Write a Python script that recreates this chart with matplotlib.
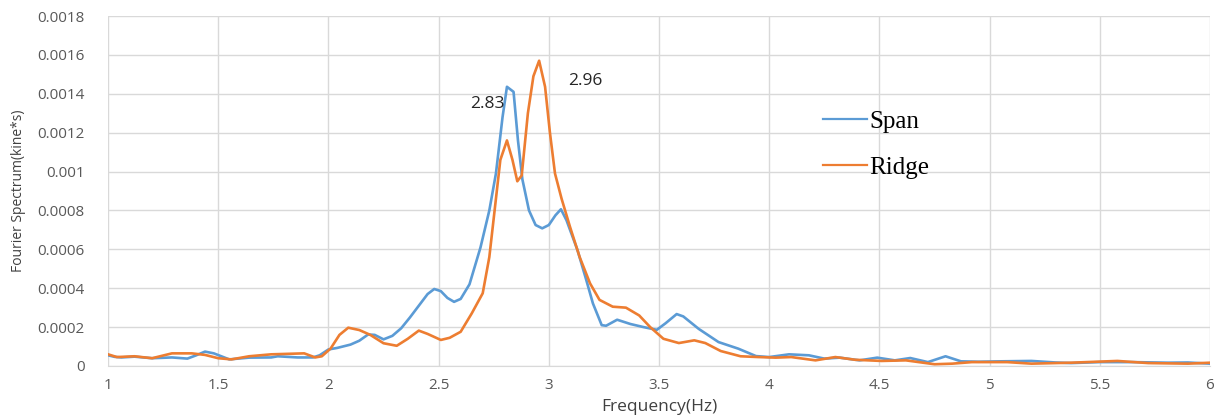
import matplotlib
matplotlib.use("Agg")
import matplotlib.pyplot as plt

# Fourier spectrum
span_freq = [1.00, 1.03, 1.06, 1.12, 1.20, 1.29, 1.36, 1.40, 1.44, 1.48, 1.55, 1.64,
             1.74, 1.77, 1.86, 1.93, 1.96, 2.00, 2.04, 2.10, 2.14, 2.18, 2.21, 2.25,
             2.29, 2.33, 2.37, 2.42, 2.45, 2.48, 2.51, 2.54, 2.57, 2.60, 2.64, 2.69,
             2.73, 2.76, 2.79, 2.81, 2.84, 2.86, 2.88, 2.91, 2.94, 2.97, 3.00, 3.03,
             3.055, 3.08, 3.13, 3.17, 3.20, 3.24, 3.26, 3.31, 3.37, 3.43, 3.49, 3.53,
             3.58, 3.61, 3.68, 3.77, 3.86, 3.94, 4.00, 4.09, 4.18, 4.25, 4.32, 4.41,
             4.49, 4.57, 4.64, 4.72, 4.80, 4.87, 4.95, 5.05, 5.19, 5.30, 5.37, 5.50,
             5.65, 5.81, 5.90, 6.00]
span_vals = [0.000055, 0.000047, 0.000044, 0.000048, 0.000040, 0.000044, 0.000038,
             0.000055, 0.000074, 0.000065, 0.000034, 0.000043, 0.000044, 0.000050,
             0.000044, 0.000044, 0.000055, 0.000085, 0.000093, 0.000110, 0.000130,
             0.000162, 0.000160, 0.000137, 0.000155, 0.000194, 0.000250, 0.000325,
             0.000370, 0.000396, 0.000385, 0.000350, 0.000330, 0.000345, 0.000420,
             0.000610, 0.000800, 0.000990, 0.001280, 0.001436, 0.001410, 0.001160,
             0.000960, 0.000800, 0.000725, 0.000708, 0.000725, 0.000775, 0.000806,
             0.000750, 0.000596, 0.000442, 0.000322, 0.000210, 0.000207, 0.000238,
             0.000216, 0.000200, 0.000186, 0.000220, 0.000267, 0.000255, 0.000191,
             0.000123, 0.000089, 0.000051, 0.000046, 0.000060, 0.000055, 0.000038,
             0.000043, 0.000029, 0.000043, 0.000029, 0.000041, 0.000020, 0.000050,
             0.000024, 0.000022, 0.000024, 0.000026, 0.000018, 0.000015, 0.000020,
             0.000020, 0.000017, 0.000018, 0.000012]

ridge_freq = [1.00, 1.04, 1.12, 1.20, 1.29, 1.38, 1.44, 1.50, 1.56, 1.64, 1.74, 1.89,
              1.94, 1.97, 2.01, 2.05, 2.09, 2.14, 2.19, 2.25, 2.31, 2.36, 2.41, 2.45,
              2.51, 2.55, 2.60, 2.65, 2.70, 2.73, 2.756, 2.78, 2.81, 2.835, 2.857,
              2.877, 2.905, 2.93, 2.956, 2.983, 3.005, 3.028, 3.058, 3.096, 3.14,
              3.187, 3.23, 3.29, 3.35, 3.41, 3.46, 3.52, 3.59, 3.66, 3.71, 3.78, 3.87,
              3.95, 4.03, 4.10, 4.21, 4.30, 4.39, 4.51, 4.62, 4.75, 4.83, 4.92, 5.08,
              5.19, 5.37, 5.58, 5.72, 5.90, 6.00]
ridge_vals = [0.000060, 0.000046, 0.000050, 0.000040, 0.000065, 0.000065, 0.000057,
              0.000040, 0.000034, 0.000050, 0.000060, 0.000065, 0.000044, 0.000050,
              0.000090, 0.000160, 0.000197, 0.000185, 0.000160, 0.000117, 0.000104,
              0.000140, 0.000182, 0.000165, 0.000134, 0.000145, 0.000176, 0.000270,
              0.000374, 0.000560, 0.000820, 0.001060, 0.001160, 0.001060, 0.000950,
              0.000980, 0.001300, 0.001490, 0.001570, 0.001436, 0.001200, 0.000990,
              0.000860, 0.000716, 0.000560, 0.000425, 0.000340, 0.000305, 0.000300,
              0.000260, 0.000200, 0.000140, 0.000118, 0.000132, 0.000118, 0.000077,
              0.000050, 0.000046, 0.000043, 0.000046, 0.000029, 0.000046, 0.000032,
              0.000026, 0.000029, 0.000009, 0.000012, 0.000020, 0.000020, 0.000012,
              0.000017, 0.000026, 0.000015, 0.000012, 0.000017]

x_ticks = [1, 1.5, 2, 2.5, 3, 3.5, 4, 4.5, 5, 5.5, 6]
x_tick_labels = ["1", "1.5", "2", "2.5", "3", "3.5", "4", "4.5", "5", "5.5", "6"]
y_ticks = [0, 0.0002, 0.0004, 0.0006, 0.0008, 0.001, 0.0012, 0.0014, 0.0016, 0.0018]
y_tick_labels = ["0", "0.0002", "0.0004", "0.0006", "0.0008", "0.001", "0.0012",
                 "0.0014", "0.0016", "0.0018"]

peak_labels = ["2.83", "2.96"]
peak_label_pos = [(2.72, 0.001347), (3.165, 0.001465)]

plt.rcParams["font.family"] = ["Open Sans", "DejaVu Sans"]

fig = plt.figure(figsize=(12.14, 4.19), dpi=100)
ax = fig.add_axes([0.089, 0.1265, 0.9077, 0.8353])

ax.plot(span_freq, span_vals, color="#5B9BD5", linewidth=1.9, label="Span")
ax.plot(ridge_freq, ridge_vals, color="#ED7D31", linewidth=1.9, label="Ridge")

for txt, (fx, fy) in zip(peak_labels, peak_label_pos):
    ax.text(fx, fy, txt, fontsize=12.5, color="#262626", ha="center", va="center")

ax.set_xlim(1, 6)
ax.set_ylim(0, 0.0018)
ax.set_xticks(x_ticks)
ax.set_xticklabels(x_tick_labels)
ax.set_yticks(y_ticks)
ax.set_yticklabels(y_tick_labels)
ax.tick_params(axis="both", length=0, labelsize=11, labelcolor="#595959")
ax.tick_params(axis="x", pad=9)
ax.tick_params(axis="y", pad=17)

ax.grid(True, color="#d9d9d9", linewidth=1)
ax.set_axisbelow(True)
for side in ["top", "right", "left"]:
    ax.spines[side].set_visible(False)
ax.spines["bottom"].set_color("#d9d9d9")

ax.set_xlabel("Frequency(Hz)", fontsize=12.5, color="#404040", labelpad=4)
ax.set_ylabel("Fourier Spectrum(kine*s)", fontsize=10, color="#404040", labelpad=8)

leg = ax.legend(loc="upper left", bbox_to_anchor=(0.6486, 0.731), frameon=False,
                prop={"family": "Liberation Serif", "size": 18},
                handlelength=1.76, handletextpad=0.1, labelspacing=0.95,
                borderaxespad=0, borderpad=0)
for line in leg.get_lines():
    line.set_linewidth(1.6)

fig.savefig("out.png", dpi=100)
